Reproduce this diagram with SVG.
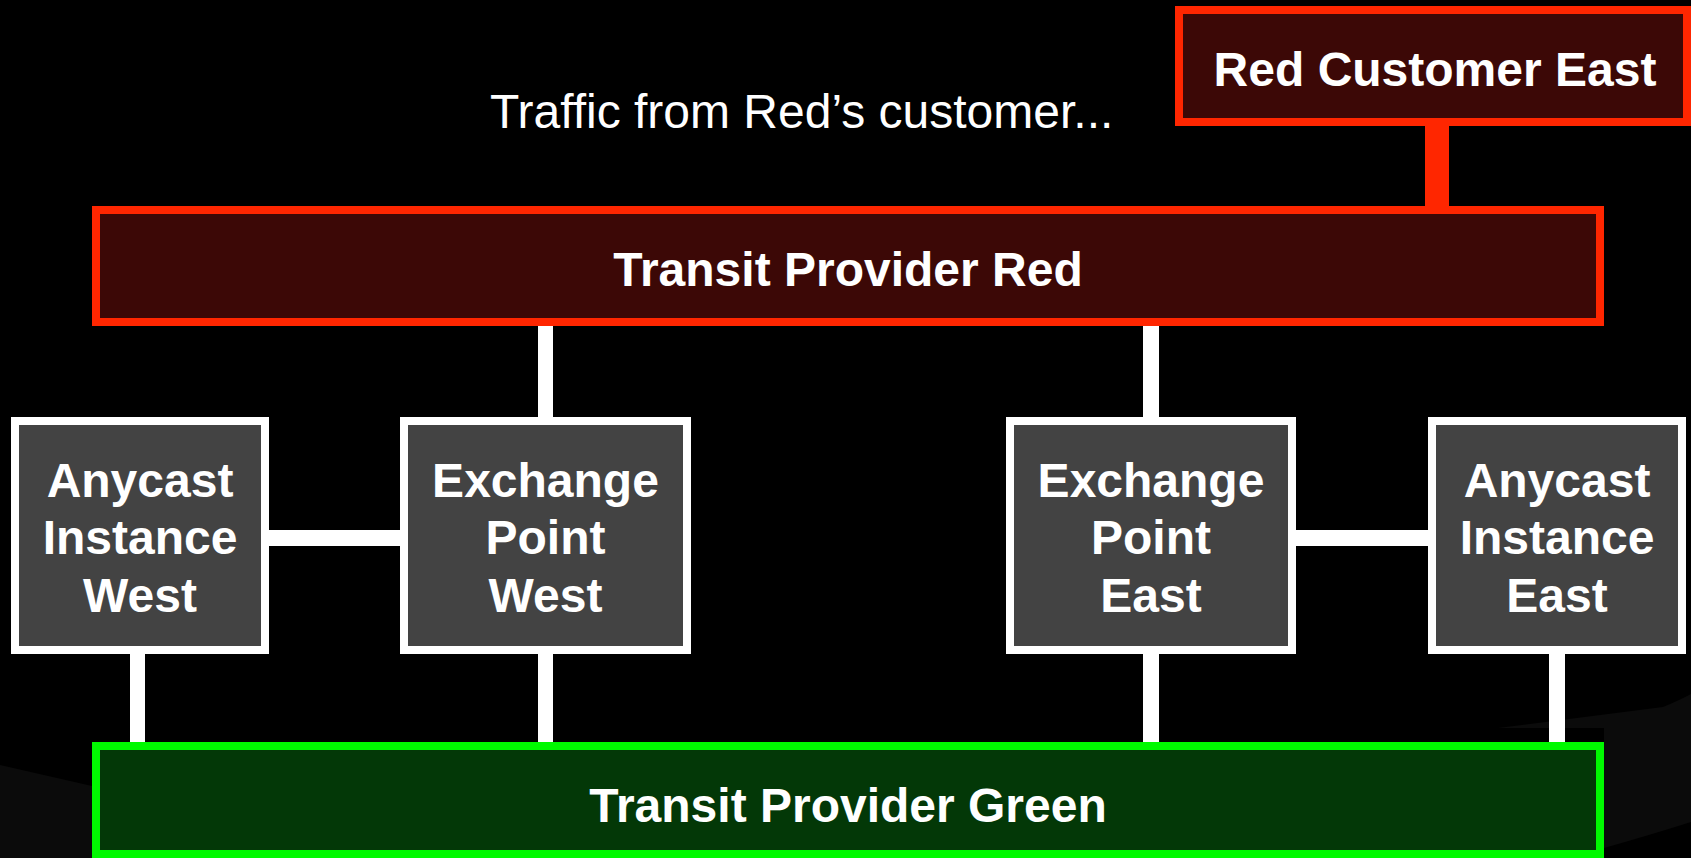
<svg xmlns="http://www.w3.org/2000/svg" width="1691" height="858" viewBox="0 0 1691 858">
  <style>
    .red { fill: #3c0806; stroke: #ff2600; stroke-width: 8; }
    .green { fill: #033807; stroke: #00f900; stroke-width: 8; }
    .grey { fill: #434343; stroke: #ffffff; stroke-width: 8; }
    .label { font-family: "Liberation Sans", Arial, Helvetica, sans-serif; font-weight: bold; font-size: 48px; fill: #ffffff; text-anchor: middle; }
    .note { font-family: "Liberation Sans", Arial, Helvetica, sans-serif; font-size: 48px; fill: #ffffff; }
    .wire { fill: #ffffff; }
    .redwire { fill: #ff2600; }
    .floor { fill: #0b0b0b; }
  </style>

  <rect x="0" y="0" width="1691" height="858" fill="#000000"/>

  <!-- faint stage surface in the background -->
  <g id="backdrop">
    <polygon class="floor" points="0,765 92,786 92,858 0,858"/>
    <path class="floor" d="M1498,728 L1663,707 Q1680,700 1691,694 L1691,822 Q1650,835 1604,848 L1604,728 Z"/>
  </g>

  <!-- connectors -->
  <g id="connectors">
    <rect class="redwire" x="1425" y="124" width="24" height="84"/>
    <rect class="wire" x="538" y="324" width="15" height="95"/>
    <rect class="wire" x="1143" y="324" width="16" height="95"/>
    <rect class="wire" x="268" y="530" width="134" height="16"/>
    <rect class="wire" x="1293" y="530" width="137" height="16"/>
    <rect class="wire" x="130" y="652" width="15" height="92"/>
    <rect class="wire" x="538" y="652" width="15" height="92"/>
    <rect class="wire" x="1143" y="652" width="16" height="92"/>
    <rect class="wire" x="1549" y="652" width="16" height="92"/>
  </g>

  <g id="red-customer-east">
    <rect class="red" x="1179" y="10" width="508" height="112"/>
    <text class="label" x="1435" y="86">Red Customer East</text>
  </g>

  <g id="traffic-note">
    <text class="note" x="490" y="128">Traffic from Red’s customer...</text>
  </g>

  <g id="transit-red">
    <rect class="red" x="96" y="210" width="1504" height="112"/>
    <text class="label" x="848" y="286">Transit Provider Red</text>
  </g>

  <g id="anycast-west">
    <rect class="grey" x="15" y="421" width="250" height="229"/>
    <text class="label" x="140" y="497">Anycast</text>
    <text class="label" x="140" y="554">Instance</text>
    <text class="label" x="140" y="612">West</text>
  </g>

  <g id="exchange-west">
    <rect class="grey" x="404" y="421" width="283" height="229"/>
    <text class="label" x="545.5" y="497">Exchange</text>
    <text class="label" x="545.5" y="554">Point</text>
    <text class="label" x="545.5" y="612">West</text>
  </g>

  <g id="exchange-east">
    <rect class="grey" x="1010" y="421" width="282" height="229"/>
    <text class="label" x="1151" y="497">Exchange</text>
    <text class="label" x="1151" y="554">Point</text>
    <text class="label" x="1151" y="612">East</text>
  </g>

  <g id="anycast-east">
    <rect class="grey" x="1432" y="421" width="250" height="229"/>
    <text class="label" x="1557" y="497">Anycast</text>
    <text class="label" x="1557" y="554">Instance</text>
    <text class="label" x="1557" y="612">East</text>
  </g>

  <g id="transit-green">
    <rect class="green" x="96" y="746" width="1504" height="108"/>
    <text class="label" x="848" y="822">Transit Provider Green</text>
  </g>
</svg>
